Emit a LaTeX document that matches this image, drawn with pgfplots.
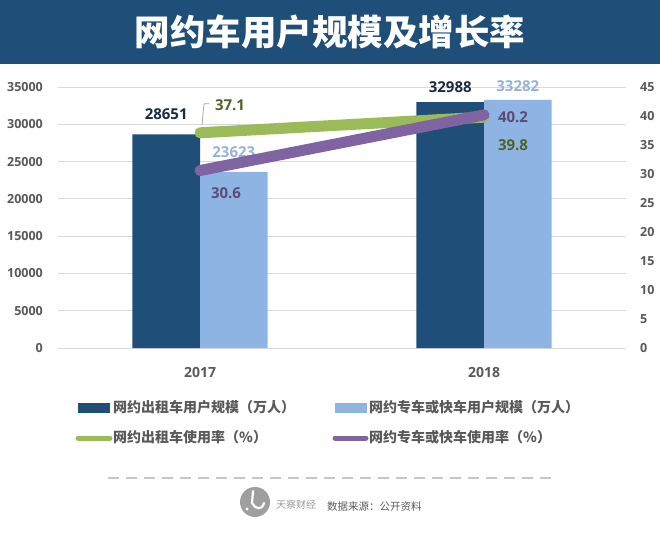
\documentclass[border=0pt]{standalone}
\usepackage{pgfplots}
\pgfplotsset{compat=1.18}
\usepackage{fontspec}
\setmainfont{Open Sans}
\newfontfamily\cjk{Noto Sans CJK SC}
\newfontfamily\numfont{Open Sans}
\definecolor{banner}{HTML}{1F4E79}
\definecolor{darkbar}{HTML}{1F4E79}
\definecolor{lightbar}{HTML}{8DB4E2}
\definecolor{lgreen}{HTML}{9BBB59}
\definecolor{lpurple}{HTML}{8064A2}
\definecolor{txtgray}{HTML}{595959}
\definecolor{gridc}{HTML}{D9D9D9}
\definecolor{olivetxt}{HTML}{4F6228}
\definecolor{dpurple}{HTML}{5F497A}
\definecolor{lbluetxt}{HTML}{95B3D7}
\definecolor{navytxt}{HTML}{1B2A41}
\begin{document}
\begin{tikzpicture}[x=1pt,y=1pt]
\path (0,0) rectangle (660,533);
% banner
\fill[banner] (0,533) rectangle (660,469);
\node[text=white, font=\cjk\bfseries\fontsize{35.5}{37}\selectfont] at (330,501) {网约车用户规模及增长率};

\begin{axis}[
  at={(58pt,185pt)}, anchor=south west,
  scale only axis, width=568pt, height=261pt,
  xmin=-0.5, xmax=1.5, ymin=0, ymax=35000,
  xtick={0,1}, xticklabels={2017,2018},
  ytick={0,5000,...,35000}, scaled y ticks=false,
  ymajorgrids, grid style={draw=gridc, line width=0.9pt},
  axis line style={draw=none}, major tick style={draw=none},
  /pgf/number format/.cd, 1000 sep={}, assume math mode=true, /pgfplots/.cd,
  yticklabel style={anchor=east, inner sep=0pt, xshift=-15pt, font=\numfont\bfseries\fontsize{12.5}{14}\selectfont, text=txtgray},
  xticklabel style={anchor=base, inner sep=0pt, yshift=-29pt, font=\numfont\bfseries\fontsize{14}{16}\selectfont, text=txtgray},
  clip=false,
]
\addplot[ybar, bar width=0.238, bar shift=-0.119, fill=darkbar, draw=none] coordinates {(0,28651) (1,32988)};
\addplot[ybar, bar width=0.238, bar shift=0.119, fill=lightbar, draw=none] coordinates {(0,23623) (1,33282)};
\node[font=\numfont\bfseries\fontsize{15}{17}\selectfont, text=navytxt, yshift=20pt] at (axis cs:-0.119,28651) {28651};
\node[font=\numfont\bfseries\fontsize{15}{17}\selectfont, text=lbluetxt, yshift=20pt] at (axis cs:0.119,23623) {23623};
\node[font=\numfont\bfseries\fontsize{15}{17}\selectfont, text=navytxt, yshift=15pt] at (axis cs:0.881,32988) {32988};
\node[font=\numfont\bfseries\fontsize{15}{17}\selectfont, text=lbluetxt, yshift=14pt] at (axis cs:1.119,33282) {33282};
\end{axis}

\begin{axis}[
  at={(58pt,185pt)}, anchor=south west,
  scale only axis, width=568pt, height=261pt,
  xmin=-0.5, xmax=1.5, ymin=0, ymax=45,
  axis y line*=right, axis x line=none,
  ytick={0,5,...,45},
  axis line style={draw=none}, major tick style={draw=none},
  /pgf/number format/.cd, assume math mode=true, /pgfplots/.cd,
  yticklabel style={anchor=west, inner sep=0pt, xshift=14pt, font=\numfont\bfseries\fontsize{12.5}{14}\selectfont, text=txtgray},
  clip=false,
]
\draw[gray!70, line width=0.8pt] ([shift={(2pt,8pt)}]axis cs:0,37.1) -- ([shift={(4pt,29pt)}]axis cs:0,37.1) -- ([shift={(9pt,29pt)}]axis cs:0,37.1);
\addplot[lgreen, line width=11pt, line cap=round] coordinates {(0,37.1) (1,39.8)};
\addplot[lpurple, line width=11pt, line cap=round] coordinates {(0,30.6) (1,40.2)};
\node[font=\numfont\bfseries\fontsize{15}{17}\selectfont, text=olivetxt, xshift=30pt, yshift=28pt] at (axis cs:0,37.1) {37.1};
\node[font=\numfont\bfseries\fontsize{15}{17}\selectfont, text=dpurple, xshift=26pt, yshift=-22.5pt] at (axis cs:0,30.6) {30.6};
\node[font=\numfont\bfseries\fontsize{15}{17}\selectfont, text=dpurple, xshift=29pt, yshift=-2pt] at (axis cs:1,40.2) {40.2};
\node[font=\numfont\bfseries\fontsize{15}{17}\selectfont, text=olivetxt, xshift=29pt, yshift=-28pt] at (axis cs:1,39.8) {39.8};
\end{axis}

% legend
\fill[darkbar] (78,120) rectangle (110,130);
\node[anchor=west, inner sep=0pt, font=\cjk\bfseries\fontsize{14}{16}\selectfont, text=txtgray] at (113,126) {网约出租车用户规模（万人）};
\fill[lightbar] (335,120) rectangle (367,130);
\node[anchor=west, inner sep=0pt, font=\cjk\bfseries\fontsize{14}{16}\selectfont, text=txtgray] at (369,126) {网约专车或快车用户规模（万人）};
\draw[lgreen, line width=5pt, line cap=round] (78,95) -- (110,95);
\node[anchor=west, inner sep=0pt, font=\cjk\bfseries\fontsize{14}{16}\selectfont, text=txtgray] at (113,96) {网约出租车使用率（\%）};
\draw[lpurple, line width=5pt, line cap=round] (335,95) -- (366,95);
\node[anchor=west, inner sep=0pt, font=\cjk\bfseries\fontsize{14}{16}\selectfont, text=txtgray] at (369,96) {网约专车或快车使用率（\%）};

% footer
\draw[gray!45, line width=1.3pt, dash pattern=on 11pt off 7pt] (108,55) -- (552,55);
\fill[gray!75] (255,31) circle (15);
\draw[white, line width=2.2pt, line cap=round] (253,42) -- (252,30) .. controls (255,24) and (262,22) .. (264,30);
\fill[white] (247,24) circle (1.6);
\node[anchor=west, inner sep=0pt, font=\cjk\fontsize{10}{11}\selectfont, text=gray!80] at (276,28) {天察财经};
\node[anchor=west, inner sep=0pt, font=\cjk\fontsize{10.5}{12}\selectfont, text=txtgray] at (327,26) {数据来源：公开资料};
\end{tikzpicture}
\end{document}
